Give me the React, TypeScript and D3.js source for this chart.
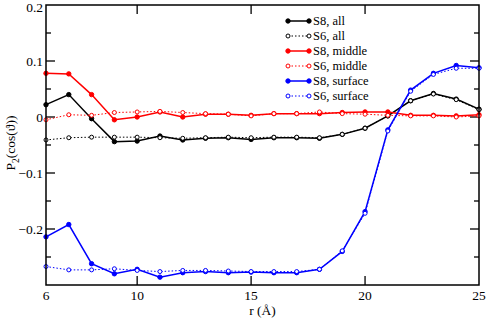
import React, { useEffect, useRef } from 'react'
import * as d3 from 'd3'

const radii = [6, 7, 8, 9, 10, 11, 12, 13, 14, 15, 16, 17, 18, 19, 20, 21, 22, 23, 24, 25]

const s8All = [0.022, 0.04, -0.003, -0.044, -0.043, -0.034, -0.041, -0.038, -0.037, -0.04, -0.037, -0.037, -0.038, -0.031, -0.02, 0.002, 0.029, 0.042, 0.032, 0.014]
const s6All = [-0.041, -0.037, -0.036, -0.036, -0.036, -0.037, -0.038, -0.037, -0.036, -0.037, -0.036, -0.036, -0.037, -0.031, -0.02, 0.002, 0.029, 0.041, 0.031, 0.013]
const s8Middle = [0.078, 0.077, 0.04, -0.005, 0.0, 0.009, 0.0, 0.005, 0.005, 0.003, 0.006, 0.006, 0.006, 0.008, 0.009, 0.009, 0.003, 0.003, 0.002, 0.004]
const s6Middle = [-0.005, 0.004, 0.003, 0.008, 0.009, 0.01, 0.008, 0.006, 0.005, 0.002, 0.006, 0.006, 0.009, 0.006, 0.005, 0.003, 0.002, 0.002, 0.0, 0.002]
const s8Surface = [-0.214, -0.192, -0.262, -0.28, -0.272, -0.286, -0.278, -0.276, -0.278, -0.277, -0.278, -0.278, -0.272, -0.24, -0.169, -0.023, 0.048, 0.078, 0.092, 0.088]
const s6Surface = [-0.267, -0.273, -0.273, -0.271, -0.274, -0.276, -0.274, -0.274, -0.275, -0.276, -0.276, -0.276, -0.272, -0.239, -0.172, -0.025, 0.046, 0.076, 0.087, 0.087]

const xTicks = [6, 10, 15, 20, 25]
const yTicks = [-0.2, -0.1, 0, 0.1, 0.2]
const yMinorTicks = [-0.25, -0.15, -0.05, 0.05, 0.15]

const series = [
  { label: 'S8, all', values: s8All, color: '#000000', open: false },
  { label: 'S6, all', values: s6All, color: '#000000', open: true },
  { label: 'S8, middle', values: s8Middle, color: '#ff0000', open: false },
  { label: 'S6, middle', values: s6Middle, color: '#ff0000', open: true },
  { label: 'S8, surface', values: s8Surface, color: '#0000ff', open: false },
  { label: 'S6, surface', values: s6Surface, color: '#0000ff', open: true },
]

const width = 486
const height = 318
const margin = { top: 5, right: 7, bottom: 33, left: 46 }
const font = "'Liberation Serif', 'Times New Roman', serif"

const App = () => {
  const svgRef = useRef(null)

  useEffect(() => {
    const svg = d3.select(svgRef.current)
    svg.selectAll('*').remove()

    const x = d3.scaleLinear().domain([6, 25]).range([margin.left, width - margin.right])
    const y = d3.scaleLinear().domain([-0.3, 0.2]).range([height - margin.bottom, margin.top])
    const [x0, x1] = x.range()
    const [y0, y1] = y.range()

    const g = svg.append('g').style('font-family', font).style('font-size', '12.5px')

    // ticks point inward on all four sides
    const tickG = g.append('g').attr('stroke', '#000').attr('stroke-width', 1.3)
    xTicks.slice(1, -1).forEach((t) => {
      tickG.append('line').attr('x1', x(t)).attr('x2', x(t)).attr('y1', y0).attr('y2', y0 - 9)
      tickG.append('line').attr('x1', x(t)).attr('x2', x(t)).attr('y1', y1).attr('y2', y1 + 9)
    })
    yTicks.slice(0, -1).forEach((t) => {
      tickG.append('line').attr('x1', x0).attr('x2', x0 + 9).attr('y1', y(t)).attr('y2', y(t))
      tickG.append('line').attr('x1', x1).attr('x2', x1 - 9).attr('y1', y(t)).attr('y2', y(t))
    })
    yMinorTicks.forEach((t) => {
      tickG.append('line').attr('x1', x0).attr('x2', x0 + 5).attr('y1', y(t)).attr('y2', y(t))
      tickG.append('line').attr('x1', x1).attr('x2', x1 - 5).attr('y1', y(t)).attr('y2', y(t))
    })

    // tick labels
    g.append('g')
      .selectAll('text')
      .data(xTicks)
      .join('text')
      .attr('x', (d) => x(d))
      .attr('y', y0 + 15)
      .attr('text-anchor', 'middle')
      .style('font-size', '13.5px')
      .text((d) => d)

    // top label kept just inside the page edge
    g.append('g')
      .selectAll('text')
      .data(yTicks)
      .join('text')
      .attr('x', x0 - 3)
      .attr('y', (d) => Math.max(y(d), 7))
      .attr('dy', '0.35em')
      .attr('text-anchor', 'end')
      .style('font-size', '13.5px')
      .text((d) => (d === 0 ? '0' : d3.format('.1f')(d)))

    // axis titles
    g.append('text')
      .attr('x', (x0 + x1) / 2)
      .attr('y', height - 3)
      .attr('text-anchor', 'middle')
      .style('font-size', '13.5px')
      .text('r (Å)')

    const yTitle = g
      .append('text')
      .attr('transform', `translate(15, ${(y0 + y1) / 2 - 2}) rotate(-90)`)
      .attr('text-anchor', 'middle')
      .style('font-size', '13.5px')
    yTitle.append('tspan').text('P')
    yTitle.append('tspan').attr('dy', 4).style('font-size', '9.5px').text('2')
    yTitle.append('tspan').attr('dy', -4).text('(cos(ϑ))')

    const line = d3
      .line()
      .x((d) => x(d[0]))
      .y((d) => y(d[1]))

    series.forEach((s) => {
      const pts = radii.map((r, i) => [r, s.values[i]])
      const sg = g.append('g')
      sg.append('path')
        .datum(pts)
        .attr('d', line)
        .attr('fill', 'none')
        .attr('stroke', s.color)
        .attr('stroke-width', s.open ? 1 : 1.5)
        .attr('stroke-dasharray', s.open ? '1.5,2' : null)
      sg.selectAll('circle')
        .data(pts)
        .join('circle')
        .attr('cx', (d) => x(d[0]))
        .attr('cy', (d) => y(d[1]))
        .attr('r', s.open ? 2 : 2.2)
        .attr('fill', s.open ? '#fff' : s.color)
        .attr('stroke', s.color)
        .attr('stroke-width', 1)
    })

    // frame
    g.append('rect')
      .attr('x', x0)
      .attr('y', y1)
      .attr('width', x1 - x0)
      .attr('height', y0 - y1)
      .attr('fill', 'none')
      .attr('stroke', '#000')
      .attr('stroke-width', 1.5)

    // legend
    const legend = g.append('g').attr('transform', 'translate(288, 21)')
    series.forEach((s, i) => {
      const row = legend.append('g').attr('transform', `translate(0, ${i * 15})`)
      row.append('line')
        .attr('x1', 0)
        .attr('x2', 21)
        .attr('stroke', s.color)
        .attr('stroke-width', s.open ? 1 : 1.5)
        .attr('stroke-dasharray', s.open ? '1.5,2' : null)
      ;[0, 21].forEach((cx) => {
        row.append('circle')
          .attr('cx', cx)
          .attr('r', s.open ? 2 : 2.2)
          .attr('fill', s.open ? '#fff' : s.color)
          .attr('stroke', s.color)
      })
      row.append('text')
        .attr('x', 25)
        .attr('dy', '0.35em')
        .text(s.label)
    })
  }, [])

  return (
    <svg
      ref={svgRef}
      width={width}
      height={height}
      viewBox={`0 0 ${width} ${height}`}
      style={{ position: 'absolute', left: 0, top: 0, background: '#fff' }}
    ></svg>
  )
}

export default App
